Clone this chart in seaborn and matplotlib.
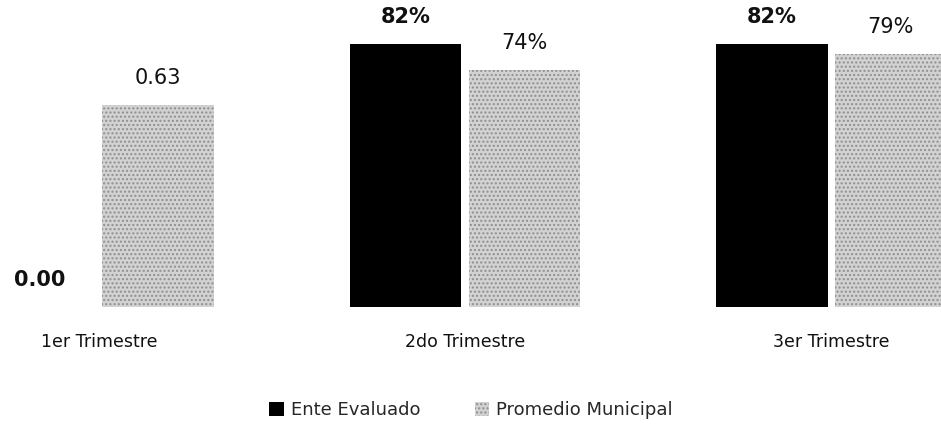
import matplotlib
matplotlib.use("Agg")
import matplotlib.pyplot as plt
import seaborn as sns
import pandas as pd
from matplotlib.patches import Patch

categories = ["1er Trimestre", "2do Trimestre", "3er Trimestre"]
series = ["Ente Evaluado", "Promedio Municipal"]
ente_values = [0.00, 0.82, 0.82]
promedio_values = [0.63, 0.74, 0.79]
ente_labels = ["0.00", "82%", "82%"]
promedio_labels = ["0.63", "74%", "79%"]

df = pd.DataFrame({
    "Trimestre": categories * 2,
    "Serie": [series[0]] * 3 + [series[1]] * 3,
    "Valor": ente_values + promedio_values,
})

sns.set_theme(style="white")
plt.rcParams["font.family"] = ["DejaVu Sans"]

colors = {"Ente Evaluado": "#000000", "Promedio Municipal": "#d2d2d2"}

fig = plt.figure(figsize=(9.41, 4.25), dpi=100)
ax = fig.add_axes([0.0, 118 / 425, 1.0, 307 / 425])

sns.barplot(data=df, x="Trimestre", y="Valor", hue="Serie", order=categories,
            hue_order=series, palette=colors, width=0.65, gap=0.06,
            ax=ax, legend=False, saturation=1)

# Texture for the "Promedio Municipal" bars
for cont, name in zip(ax.containers, series):
    for bar in cont:
        if name == "Promedio Municipal":
            bar.set_hatch("....")
            bar.set_edgecolor("#8f8f8f")
            bar.set_linewidth(0)
        else:
            bar.set_linewidth(0)

for cont, labels, bold in zip(ax.containers, [ente_labels, promedio_labels], [True, False]):
    for bar, lab in zip(cont, labels):
        x = bar.get_x() + bar.get_width() / 2
        y = bar.get_height()
        ax.annotate(lab, (x, y), xytext=(0, 12), textcoords="offset points",
                    ha="center", va="bottom", fontsize=15,
                    fontweight="bold" if bold else "normal", color="#111111")

ax.set_xlim(-0.27, 2.30)
ax.set_ylim(0, 0.957)
ax.set_xlabel("")
ax.set_ylabel("")
ax.set_yticks([])
ax.tick_params(axis="x", length=0, pad=19, labelsize=12.5, labelcolor="#111111")
for s in ax.spines.values():
    s.set_visible(False)

handles = [Patch(facecolor="#000000", edgecolor="none", label="Ente Evaluado"),
           Patch(facecolor="#d2d2d2", edgecolor="#8f8f8f", hatch="....", linewidth=0,
                 label="Promedio Municipal")]
fig.legend(handles=handles, loc="center", bbox_to_anchor=(471 / 941, 1 - 410 / 425),
           ncol=2, frameon=False, fontsize=13, handlelength=0.8, handleheight=0.8,
           handletextpad=0.4, columnspacing=3.0)

fig.savefig("out.png", dpi=100)
